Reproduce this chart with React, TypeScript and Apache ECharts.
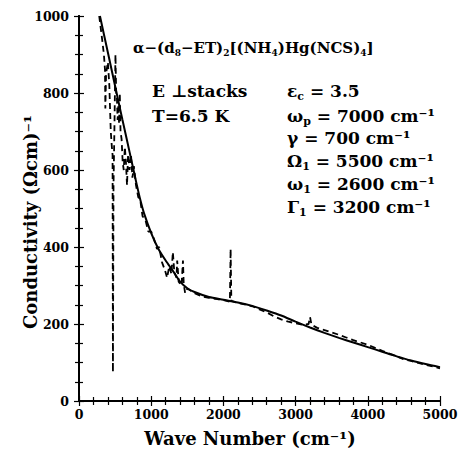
import React, { useEffect, useRef } from "react";
import * as echarts from "echarts";

// Fitted (Drude-Lorentz) curve
const fitWave = [290, 400, 500, 600, 700, 800, 850, 900, 1000, 1100, 1200, 1300, 1400, 1500, 1600, 1800, 2000, 2200, 2400, 2600, 2800, 3000, 3200, 3400, 3600, 3800, 4000, 4200, 4400, 4600, 4800, 5000];
const fitValue = [1000, 905, 818, 732, 647, 562, 522, 488, 436, 395, 365, 338, 310, 293, 283, 270, 263, 256, 247, 235, 222, 206, 191, 177, 164, 152, 140, 128, 116, 105, 96, 88];

// Measured spectrum (dashed)
const expWave = [280, 320, 345, 360, 365, 375, 400, 420, 440, 455, 465, 470, 478, 490, 505, 515, 525, 535, 545, 555, 565, 575, 590, 605, 620, 635, 650, 665, 680, 700, 720, 740, 760, 790, 820, 850, 880, 920, 960, 1000, 1040, 1080, 1110, 1150, 1190, 1220, 1250, 1280, 1300, 1320, 1350, 1360, 1380, 1420, 1440, 1450, 1470, 1500, 1600, 1700, 1800, 1900, 2000, 2090, 2100, 2110, 2200, 2400, 2500, 2600, 2700, 2800, 2900, 3000, 3100, 3180, 3200, 3220, 3300, 3400, 3500, 3600, 3700, 3800, 3900, 4000, 4100, 4200, 4400, 4500, 4600, 4700, 4800, 4900, 5000];
const expValue = [1000, 940, 900, 860, 760, 850, 880, 820, 700, 660, 640, 75, 560, 700, 900, 800, 790, 730, 770, 720, 800, 700, 680, 620, 600, 660, 620, 560, 640, 600, 640, 580, 610, 560, 530, 520, 480, 470, 440, 440, 420, 395, 400, 360, 340, 320, 350, 330, 387, 335, 320, 365, 310, 300, 365, 305, 280, 292, 280, 272, 268, 265, 262, 258, 395, 260, 255, 246, 238, 230, 220, 212, 206, 202, 198, 200, 218, 198, 190, 184, 178, 172, 165, 158, 152, 146, 138, 130, 116, 108, 104, 99, 94, 90, 85];

const xTicks = [0, 1000, 2000, 3000, 4000, 5000];
const yTicks = [0, 200, 400, 600, 800, 1000];

const FONT = "DejaVu Serif";

export default function App() {
  const ref = useRef<HTMLDivElement>(null);
  useEffect(() => {
    document.body.style.margin = "0";
    const chart = echarts.init(ref.current!, undefined, { renderer: "svg" });
    const lineStyle = { color: "#000", width: 2 };
    const axisCommon = {
      type: "value" as const,
      axisLine: { show: true, lineStyle },
      splitLine: { show: false },
    };
    const labelStyle = {
      fontFamily: FONT,
      fontWeight: "bold" as const,
      fontSize: 12.5,
      color: "#000",
      formatter: (v: number) => String(v),
    };
    const tick = { show: true, inside: true, length: 5, lineStyle: { width: 1.2, color: "#000" } };
    const minor = (n: number) => ({ show: true, splitNumber: n, length: 4, lineStyle: { width: 1.2, color: "#000" } });
    const mkRich = (size: number) => ({
      b: { fontFamily: FONT, fontWeight: "bold", fontSize: size, lineHeight: size + 4, color: "#000" },
      s: { fontFamily: FONT, fontWeight: "bold", fontSize: Math.round(size * 0.62), lineHeight: Math.round(size * 0.62), color: "#000", verticalAlign: "bottom" },
    });
    const txt = (x: number, y: number, text: string, size = 17) => ({
      type: "text",
      x,
      y,
      style: {
        text,
        rich: mkRich(size),
        verticalAlign: "middle",
        align: "left",
        fill: "#000",
      },
    });
    chart.setOption({
      animation: false,
      grid: { left: 79, right: 22, top: 16, bottom: 58 },
      xAxis: [
        {
          ...axisCommon,
          min: xTicks[0],
          max: xTicks[xTicks.length - 1],
          interval: 1000,
          axisTick: tick,
          minorTick: minor(5),
          axisLabel: { ...labelStyle, margin: 7 },
        },
        {
          ...axisCommon,
          position: "top",
          min: 0,
          max: 5000,
          interval: 1000,
          axisTick: tick,
          minorTick: minor(5),
          axisLabel: { show: false },
        },
      ],
      yAxis: [
        {
          ...axisCommon,
          min: yTicks[0],
          max: yTicks[yTicks.length - 1],
          interval: 200,
          axisTick: tick,
          minorTick: minor(4),
          axisLabel: { ...labelStyle, margin: 10 },
        },
        {
          ...axisCommon,
          position: "right",
          min: 0,
          max: 1000,
          interval: 200,
          axisTick: tick,
          minorTick: minor(4),
          axisLabel: { show: false },
        },
      ],
      series: [
        {
          type: "line",
          data: expWave.map((w, i) => [w, expValue[i]]),
          showSymbol: false,
          symbol: "none",
          lineStyle: { color: "#000", width: 1.8, type: [6, 4] },
          clip: true,
          z: 2,
        },
        {
          type: "line",
          data: fitWave.map((w, i) => [w, fitValue[i]]),
          showSymbol: false,
          symbol: "none",
          smooth: 0.25,
          lineStyle: { color: "#000", width: 2 },
          clip: true,
          z: 3,
        },
      ],
      graphic: [
        {
          type: "text",
          x: 250,
          y: 438,
          style: {
            text: "Wave Number (cm⁻¹)",
            font: `bold 18px "${FONT}"`,
            align: "center",
            verticalAlign: "middle",
            fill: "#000",
          },
        },
        {
          type: "text",
          x: 30,
          y: 222,
          rotation: Math.PI / 2,
          style: {
            text: "Conductivity (Ωcm)⁻¹",
            font: `bold 18px "${FONT}"`,
            align: "center",
            verticalAlign: "middle",
            fill: "#000",
          },
        },
        txt(133, 48, "{b|α−(d}{s|8}{b|−ET)}{s|2}{b|[(NH}{s|4}{b|)Hg(NCS)}{s|4}{b|]}", 15),
        txt(152, 91, "{b|E ⊥stacks}", 17),
        txt(152, 116, "{b|T=6.5 K}", 17),
        txt(287, 91, "{b|ε}{s|c}{b| = 3.5}"),
        txt(287, 116, "{b|ω}{s|p}{b| = 7000 cm⁻¹}"),
        txt(287, 138, "{b|γ = 700 cm⁻¹}"),
        txt(287, 161, "{b|Ω}{s|1}{b| = 5500 cm⁻¹}"),
        txt(287, 184, "{b|ω}{s|1}{b| = 2600 cm⁻¹}"),
        txt(287, 207, "{b|Γ}{s|1}{b| = 3200 cm⁻¹}"),
      ],
    });
    return () => chart.dispose();
  }, []);
  return <div ref={ref} style={{ width: 462, height: 459 }} />;
}
